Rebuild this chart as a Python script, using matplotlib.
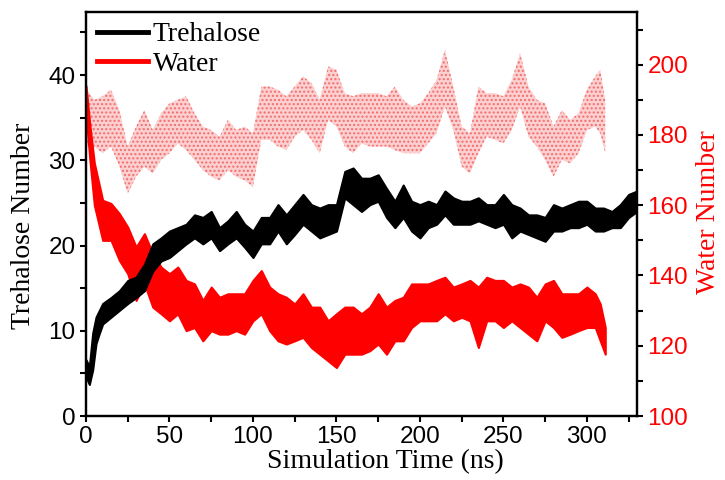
import matplotlib
matplotlib.use("Agg")
import matplotlib.pyplot as plt
import numpy as np

# ---- data (band envelopes: low / high) ----
tre_t = [0, 2, 4, 6, 8, 10, 15, 20, 25, 30, 35, 40, 45, 50, 55, 60, 65, 70, 75, 80,
         85, 90, 95, 100, 105, 110, 115, 120, 125, 130, 135, 140, 145, 150, 155, 160,
         165, 170, 175, 180, 185, 190, 195, 200, 205, 210, 215, 220, 225, 230, 235,
         240, 245, 250, 255, 260, 265, 270, 275, 280, 285, 290, 295, 300, 305, 310,
         315, 320, 325, 330]
tre_lo = [4.6, 3.7, 5.4, 8.5, 9.7, 10.8, 11.6, 12.4, 13.2, 13.9, 14.7, 17.0, 18.2, 18.6,
          19.4, 20.2, 20.9, 20.2, 20.9, 19.4, 20.2, 20.9, 19.8, 18.6, 20.2, 20.2, 21.7,
          20.2, 21.3, 22.5, 21.7, 20.9, 21.3, 21.7, 25.6, 24.8, 24.0, 24.8, 25.2, 23.3,
          22.1, 23.3, 21.7, 20.9, 22.1, 22.5, 23.6, 22.5, 22.5, 22.5, 22.9, 22.5, 22.1,
          22.5, 20.9, 21.7, 21.3, 20.9, 20.5, 21.7, 21.7, 22.1, 22.1, 22.5, 21.7, 21.7,
          22.1, 22.1, 23.3, 24.0]
tre_hi = [6.6, 5.8, 9.7, 11.6, 12.4, 13.2, 13.9, 14.7, 15.9, 16.3, 17.8, 20.2, 20.9, 21.7,
          22.1, 22.5, 23.6, 23.3, 24.0, 22.1, 22.9, 24.0, 22.5, 21.7, 23.3, 23.3, 24.8,
          23.6, 24.8, 26.0, 24.8, 24.4, 24.8, 24.8, 28.7, 29.1, 27.9, 27.9, 28.3, 26.7,
          25.2, 27.1, 25.2, 24.8, 25.2, 24.8, 26.4, 25.6, 25.2, 25.2, 25.6, 24.8, 24.8,
          26.0, 24.8, 24.4, 23.6, 23.6, 23.3, 24.8, 24.4, 24.8, 25.2, 25.2, 24.4, 24.4,
          24.0, 24.8, 26.0, 26.4]

wat_t = [0, 2.5, 5, 10, 15, 20, 25, 30, 35, 40, 45, 50, 55, 60, 65, 70, 75, 80, 85, 90,
         95, 100, 105, 110, 115, 120, 125, 130, 135, 140, 145, 150, 155, 160, 165, 170,
         175, 180, 185, 190, 195, 200, 205, 210, 215, 220, 225, 230, 235, 240, 245, 250,
         255, 260, 265, 270, 275, 280, 285, 290, 295, 300, 305, 308, 311]
wat_lo = [186, 172, 160, 150.0, 150.0, 144.3, 140.5, 132.9, 137.6, 131.0, 129.1, 127.1,
          129.1, 124.3, 125.2, 121.4, 124.3, 123.3, 123.3, 124.3, 123.3, 127.1, 129.1,
          124.3, 121.4, 120.5, 121.4, 122.4, 119.5, 117.6, 115.7, 113.8, 117.6, 117.6,
          117.6, 118.6, 120.5, 117.6, 121.4, 121.4, 125.2, 127.1, 127.1, 127.1, 129.1,
          127.1, 128.1, 127.1, 119.5, 127.1, 127.1, 125.2, 127.1, 125.2, 123.3, 121.4,
          127.1, 125.2, 122.4, 123.3, 124.3, 125.2, 125.2, 121.4, 117.6]
wat_hi = [194, 182, 172, 161.4, 160.5, 157.6, 153.8, 148.1, 151.9, 146.2, 142.4, 140.5,
          142.4, 138.6, 137.6, 132.9, 136.7, 133.8, 134.8, 134.8, 134.8, 138.6, 141.4,
          136.7, 134.8, 133.8, 131.9, 134.8, 131.0, 131.0, 127.1, 129.1, 131.0, 131.0,
          129.1, 131.0, 134.8, 131.0, 132.9, 133.8, 137.6, 137.6, 137.6, 138.6, 139.5,
          136.7, 137.6, 138.6, 136.7, 139.5, 138.6, 138.6, 136.7, 137.6, 136.7, 133.8,
          137.6, 138.6, 134.8, 134.8, 134.8, 136.7, 134.8, 131.9, 125.2]

tot_t = [0, 5, 10, 15, 20, 25, 30, 35, 40, 45, 50, 55, 60, 65, 70, 75, 80, 85, 90, 95,
         100, 105, 110, 115, 120, 125, 130, 135, 140, 145, 150, 155, 160, 165, 170, 175,
         180, 185, 190, 195, 200, 205, 210, 215, 220, 225, 230, 235, 240, 245, 250, 255,
         260, 265, 270, 275, 280, 285, 290, 295, 300, 305, 308, 311]
tot_lo = [176.7, 176.7, 174.8, 176.7, 171.0, 163.3, 168.1, 171.0, 169.0, 172.9, 174.8,
          177.6, 175.7, 172.9, 170.0, 168.1, 167.1, 170.0, 168.1, 167.1, 165.2, 178.6,
          178.6, 176.7, 175.7, 179.5, 181.4, 178.6, 174.8, 184.3, 182.4, 176.7, 174.8,
          177.6, 176.7, 176.7, 176.7, 175.7, 174.8, 174.8, 174.8, 177.6, 180.5, 188.1,
          181.4, 171.0, 169.0, 174.8, 179.5, 178.6, 177.6, 181.4, 188.1, 179.5, 176.7,
          172.9, 168.1, 172.9, 171.9, 174.8, 181.4, 182.4, 180.5, 174.8]
tot_hi = [192.9, 190.0, 191.0, 192.9, 187.1, 176.7, 182.4, 187.1, 181.4, 186.2, 189.0,
          190.0, 191.0, 186.2, 182.4, 181.4, 179.5, 184.3, 181.4, 182.4, 180.5, 193.8,
          193.8, 192.9, 191.0, 193.8, 196.7, 194.8, 190.0, 199.5, 198.6, 191.9, 191.0,
          191.9, 191.9, 191.9, 191.0, 193.8, 190.0, 188.1, 189.0, 191.9, 195.7, 204.3,
          193.8, 182.4, 180.5, 193.8, 191.9, 191.9, 191.0, 195.7, 203.3, 193.8, 190.0,
          189.0, 182.4, 187.1, 184.3, 186.2, 192.9, 196.7, 198.6, 190.0]

left_ticks = [0, 10, 20, 30, 40]
right_ticks = [100, 120, 140, 160, 180, 200]
x_ticks = [0, 50, 100, 150, 200, 250, 300]

# ---- figure ----
fig = plt.figure(figsize=(7.25, 4.8), dpi=100)
ax = fig.add_axes([0.1186, 0.1333, 0.76, 0.8417])
ax2 = ax.twinx()

label_font = {'family': 'Liberation Serif', 'size': 20}

ax.fill_between(tre_t, tre_lo, tre_hi, color='black', linewidth=1.5, edgecolor='black')
ax.plot([], [], color='black', lw=3.5, label='Trehalose')
ax.plot([], [], color='red', lw=3.5, label='Water')

ax2.fill_between(tot_t, tot_lo, tot_hi, facecolor='#fcd0d0', edgecolor='none')
ax2.fill_between(tot_t, tot_lo, tot_hi, facecolor='none', edgecolor='#f26d6d',
                 hatch='....', linewidth=0)
ax2.fill_between(wat_t, wat_lo, wat_hi, color='red', linewidth=1.5, edgecolor='red')

ax.set_xlim(0, 330)
ax.set_ylim(0.45, 47.4)
ax2.set_ylim(100, 215)

ax.set_xticks(x_ticks)
ax.set_xticks(np.arange(25, 330, 50), minor=True)
ax.set_yticks(left_ticks)
ax.set_yticks([5, 15, 25, 35, 45], minor=True)
ax2.set_yticks(right_ticks)
ax2.set_yticks([110, 130, 150, 170, 190, 210], minor=True)

for a in (ax, ax2):
    for s in a.spines.values():
        s.set_linewidth(1.6)
ax.tick_params(axis='both', which='major', direction='out', length=4.5, width=1.5,
               top=False, labelsize=17.5, pad=3)
ax.tick_params(axis='both', which='minor', direction='out', length=4, width=1.5, top=False)
ax2.tick_params(axis='y', which='major', direction='out', length=4.5, width=1.5,
                labelsize=17.5, pad=3)
ax2.tick_params(axis='y', which='minor', direction='out', length=4, width=1.5)
for lab in ax.get_xticklabels() + ax.get_yticklabels() + ax2.get_yticklabels():
    lab.set_fontfamily('Liberation Sans')
for lab in ax2.get_yticklabels():
    lab.set_color('red')

ax.set_xlabel('Simulation Time (ns)', fontdict=label_font)
ax.set_ylabel('Trehalose Number', fontdict=label_font)
ax2.set_ylabel('Water Number', fontdict=label_font, color='red')
ax.xaxis.set_label_coords(0.543, -0.082)
ax.yaxis.set_label_coords(-0.09, 0.47)
ax2.yaxis.set_label_coords(1.108, 0.505)

leg = ax.legend(loc='upper left', frameon=False, prop={'family': 'Liberation Serif', 'size': 20},
                handlelength=1.85, handletextpad=0.15, borderaxespad=0.0, labelspacing=0.15,
                bbox_to_anchor=(0.0, 1.003))
ax.set_zorder(ax2.get_zorder() + 1)
ax.patch.set_visible(False)

fig.savefig('out.png', dpi=100)
